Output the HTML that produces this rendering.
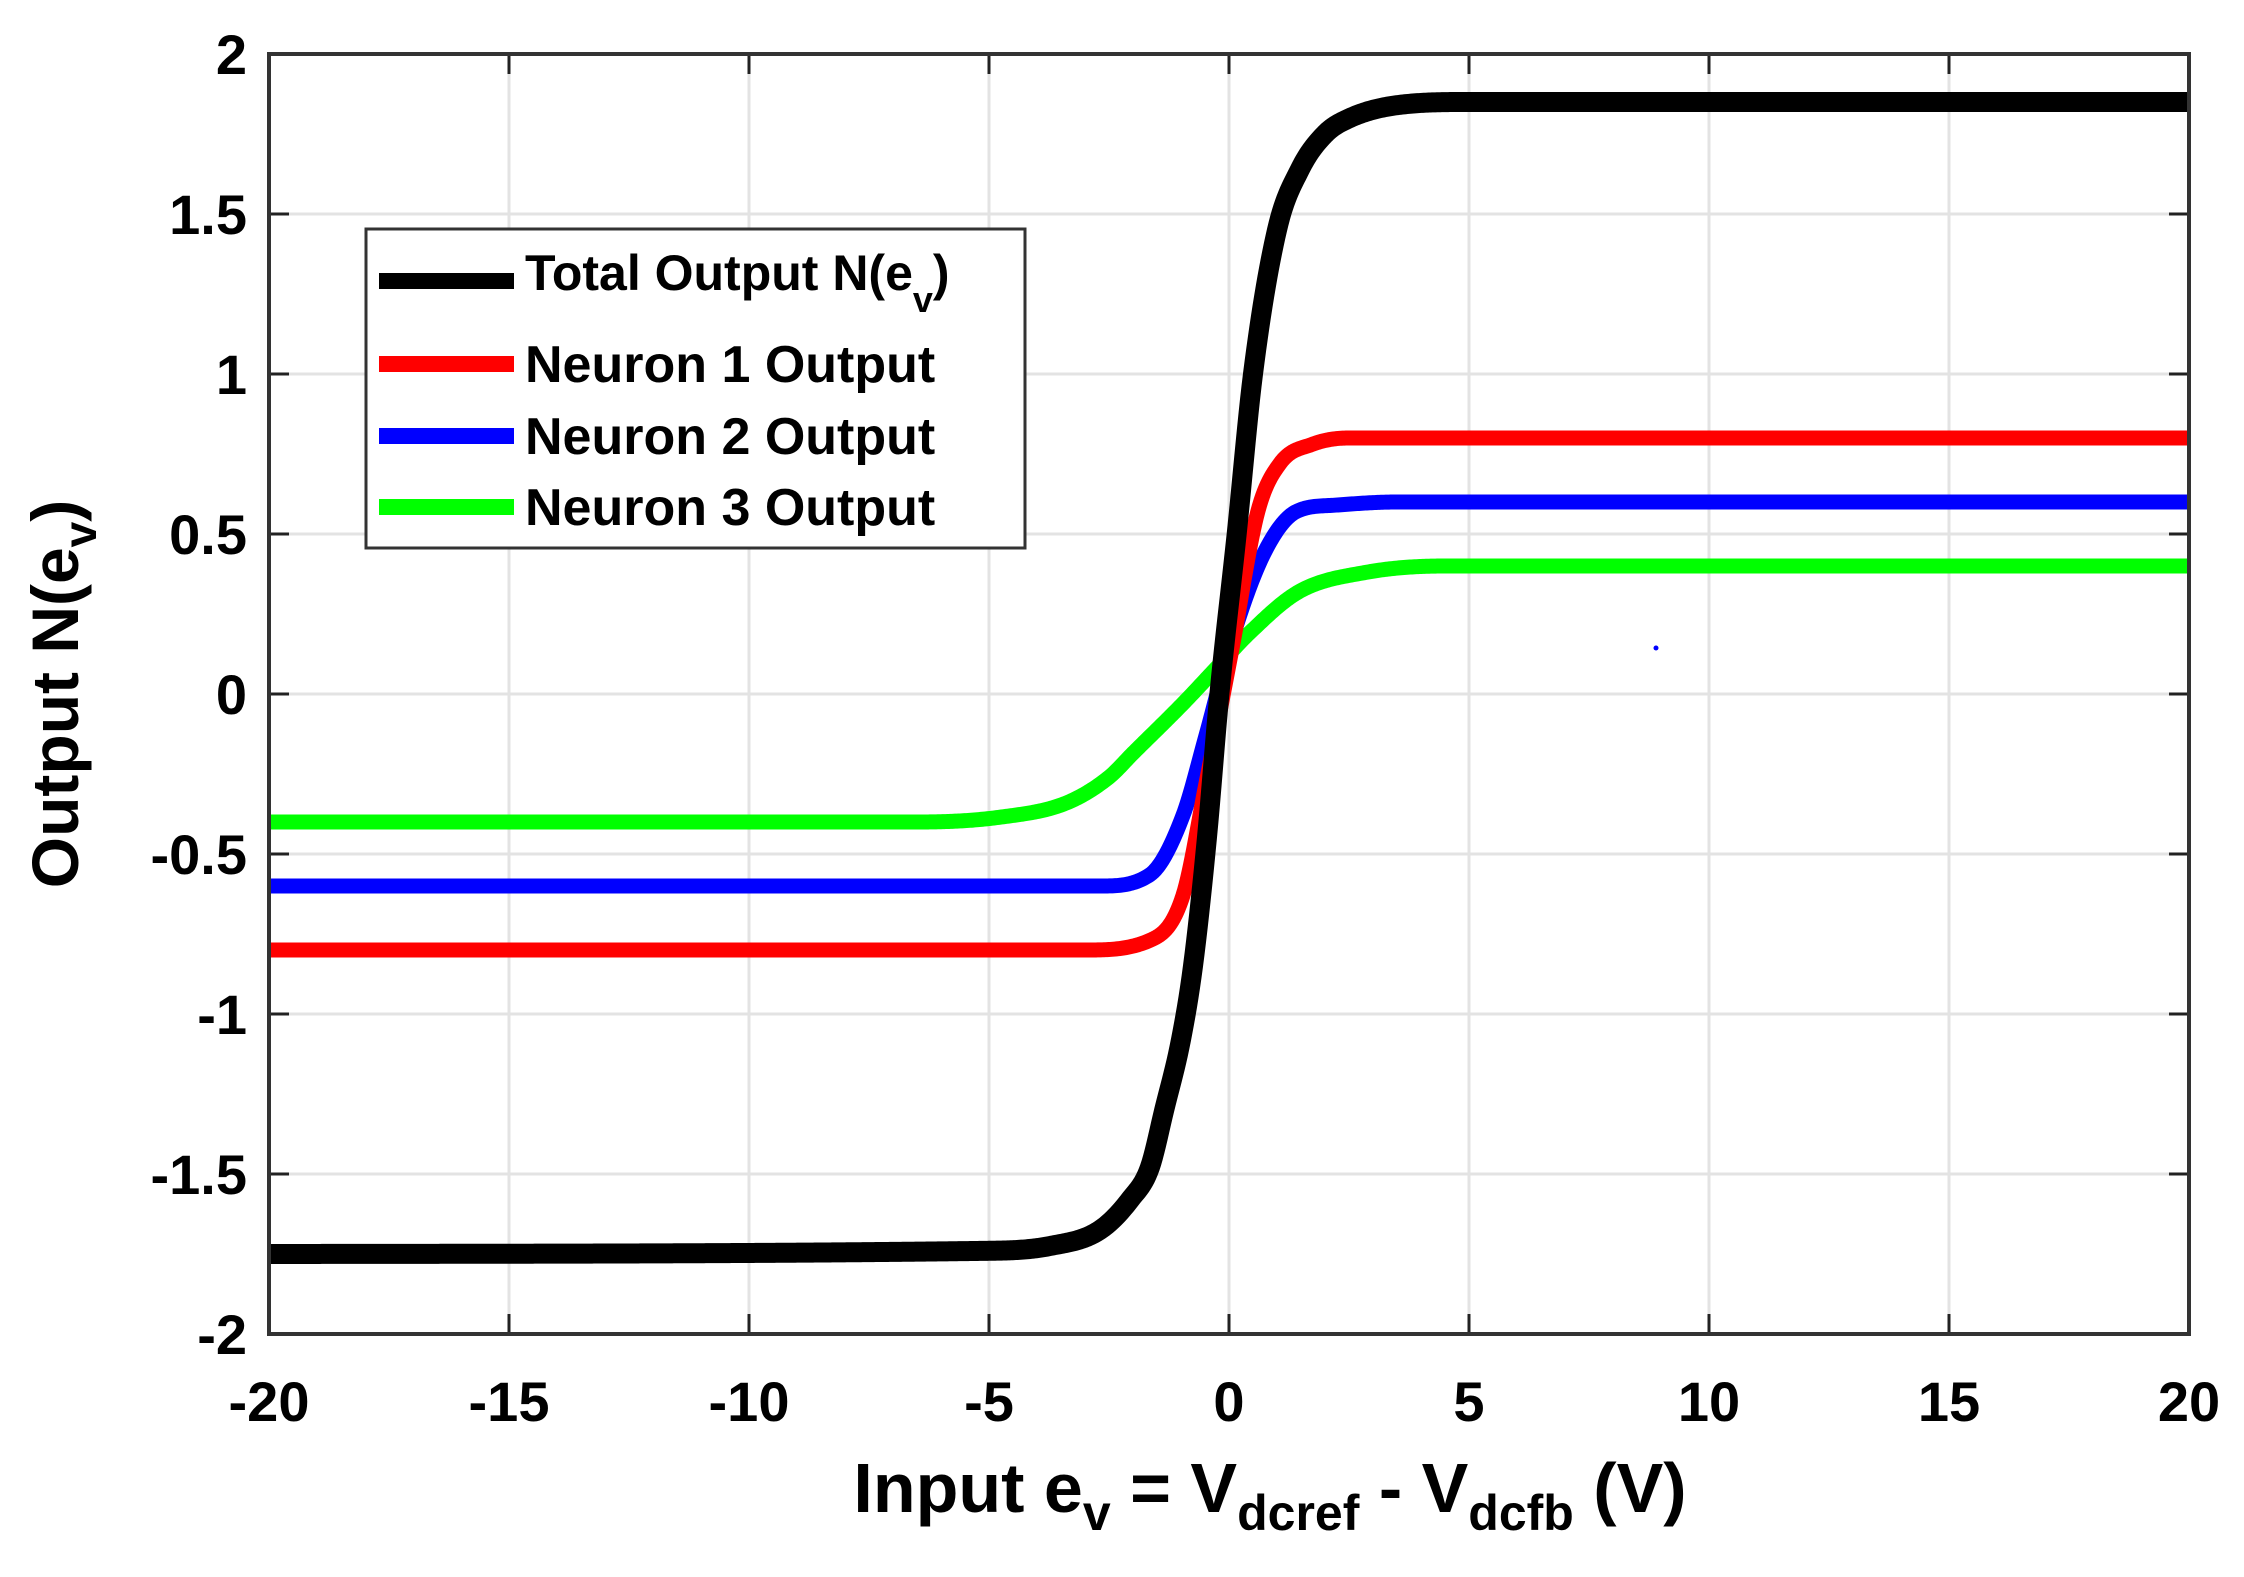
<!DOCTYPE html>
<html><head><meta charset="utf-8"><style>
html,body{margin:0;padding:0;background:#fff;}
svg{display:block;font-family:"Liberation Sans",sans-serif;font-weight:bold;}
</style></head><body>
<svg id="chart" width="2244" height="1577" viewBox="0 0 2244 1577" xmlns="http://www.w3.org/2000/svg">
<rect x="0" y="0" width="2244" height="1577" fill="#fff"/>
<g id="grid"></g>
<g id="series"></g>
<g id="axes"></g>
<g id="legend">
  <rect x="366" y="229" width="659" height="319" fill="#fff" stroke="#333" stroke-width="3"/>
  <line x1="379" y1="281" x2="514" y2="281" stroke="#000" stroke-width="16"/>
  <text x="525" y="290" font-size="50">Total Output N(e<tspan font-size="36" dy="22">v</tspan><tspan dy="-22">)</tspan></text>
  <line x1="379" y1="364" x2="514" y2="364" stroke="#ff0000" stroke-width="16"/>
  <text x="525" y="382" font-size="52">Neuron 1 Output</text>
  <line x1="379" y1="436" x2="514" y2="436" stroke="#0000ff" stroke-width="16"/>
  <text x="525" y="454" font-size="52">Neuron 2 Output</text>
  <line x1="379" y1="507" x2="514" y2="507" stroke="#00ff00" stroke-width="16"/>
  <text x="525" y="525" font-size="52">Neuron 3 Output</text>
</g>
<circle cx="1656" cy="648" r="2.5" fill="#0000ff"/>
<text x="1270" y="1512" font-size="70" text-anchor="middle">Input e<tspan font-size="50" dy="18">v</tspan><tspan dy="-18"> = V</tspan><tspan font-size="50" dy="18">dcref</tspan><tspan dy="-18"> - V</tspan><tspan font-size="50" dy="18">dcfb</tspan><tspan dy="-18"> (V)</tspan></text>
<text transform="translate(78,694) rotate(-90)" font-size="66" text-anchor="middle">Output N(e<tspan font-size="46" dy="18">v</tspan><tspan dy="-18">)</tspan></text>
</svg>
<script>
const xTicks = [-20,-15,-10,-5,0,5,10,15,20];
const yTicks = [-2,-1.5,-1,-0.5,0,0.5,1,1.5,2];
const yTickLabels = ["-2","-1.5","-1","-0.5","0","0.5","1","1.5","2"];
const seriesNames = ["neuron3","neuron2","neuron1","total"];
const totalX = [-20,-5,-3.73,-2.69,-2.06,-1.65,-1.35,-1.0,-0.75,-0.46,-0.2,0.16,0.5,1.0,1.48,2.0,2.52,3.5,5,20];
const totalY = [-1.75,-1.74,-1.725,-1.675,-1.58,-1.48,-1.3,-1.08,-0.85,-0.45,0,0.5,1.0,1.45,1.64,1.75,1.80,1.84,1.85,1.85];
const neuron1X = [-20,-3,-1.65,-0.96,-0.48,0.06,0.6,1.06,1.73,2.5,20];
const neuron1Y = [-0.8,-0.8,-0.77,-0.63,-0.28,0.14,0.57,0.72,0.78,0.8,0.8];
const neuron2X = [-20,-4,-2.69,-1.65,-0.96,-0.48,0.06,0.73,1.4,2.2,3.5,20];
const neuron2Y = [-0.6,-0.6,-0.6,-0.565,-0.38,-0.13,0.17,0.44,0.57,0.59,0.6,0.6];
const neuron3X = [-20,-6.5,-4.77,-3.38,-2.5,-2.0,-0.96,-0.27,0.42,1.46,2.85,4.5,20];
const neuron3Y = [-0.4,-0.4,-0.385,-0.34,-0.26,-0.185,-0.03,0.08,0.19,0.32,0.38,0.4,0.4];

const L=269,R=2189,T=54,B=1334;
const xs = v => L + (v+20)/40*(R-L);
const ys = v => B - (v+2)/4*(B-T);
const NS="http://www.w3.org/2000/svg";
function mk(tag, attrs){const e=document.createElementNS(NS,tag);for(const k in attrs)e.setAttribute(k,attrs[k]);return e;}
const grid=document.getElementById('grid'), axes=document.getElementById('axes'), ser=document.getElementById('series');
xTicks.forEach((t,i)=>{
  const X=xs(t);
  if(i>0&&i<xTicks.length-1){const g=mk('line',{x1:X,y1:T,x2:X,y2:B,stroke:'#e3e3e3','stroke-width':3});
  
  
  grid.appendChild(g);}
  const a=mk('line',{x1:X,y1:B,x2:X,y2:B-20,stroke:'#222','stroke-width':3});
  
  
  axes.appendChild(a);
  const b=mk('line',{x1:X,y1:T,x2:X,y2:T+20,stroke:'#222','stroke-width':3});
  
  
  axes.appendChild(b);
  const tx=mk('text',{x:X,y:1421,'font-size':56,'text-anchor':'middle'});
  tx.textContent=String(t);
  
  
  axes.appendChild(tx);
});
yTicks.forEach((t,i)=>{
  const Y=ys(t);
  if(i>0&&i<yTicks.length-1){const g=mk('line',{x1:L,y1:Y,x2:R,y2:Y,stroke:'#e3e3e3','stroke-width':3});
  
  
  grid.appendChild(g);}
  const a=mk('line',{x1:L,y1:Y,x2:L+20,y2:Y,stroke:'#222','stroke-width':3});
  
  
  axes.appendChild(a);
  const b=mk('line',{x1:R,y1:Y,x2:R-20,y2:Y,stroke:'#222','stroke-width':3});
  
  
  axes.appendChild(b);
  const tx=mk('text',{x:247,y:Y+20,'font-size':56,'text-anchor':'end'});
  tx.textContent=yTickLabels[i];
  
  
  axes.appendChild(tx);
});
const frame=mk('rect',{x:L,y:T,width:R-L,height:B-T,fill:'none',stroke:'#333','stroke-width':4});


axes.appendChild(frame);
// monotone cubic (Fritsch-Carlson) in data space, sampled densely
function pathFrom(X,Y){
  const n=X.length, d=[], m=new Array(n);
  for(let i=0;i<n-1;i++) d.push((Y[i+1]-Y[i])/(X[i+1]-X[i]));
  m[0]=d[0]; m[n-1]=d[n-2];
  for(let i=1;i<n-1;i++){ m[i]=(d[i-1]*d[i]<=0)?0:(d[i-1]+d[i])/2; }
  for(let i=0;i<n-1;i++){
    if(d[i]===0){m[i]=0;m[i+1]=0;continue;}
    const a=m[i]/d[i], b=m[i+1]/d[i], s=a*a+b*b;
    if(s>9){const t=3/Math.sqrt(s);m[i]=t*a*d[i];m[i+1]=t*b*d[i];}
  }
  let p='M'+xs(X[0])+','+ys(Y[0]);
  for(let i=0;i<n-1;i++){
    const h=X[i+1]-X[i], steps=Math.max(4,Math.ceil(h*30));
    for(let k=1;k<=steps;k++){
      const t=k/steps, t2=t*t, t3=t2*t;
      const y=(2*t3-3*t2+1)*Y[i]+(t3-2*t2+t)*h*m[i]+(-2*t3+3*t2)*Y[i+1]+(t3-t2)*h*m[i+1];
      p+=' L'+xs(X[i]+t*h).toFixed(2)+','+ys(y).toFixed(2);
    }
  }
  return p;
}
const defs=[[neuron3X,neuron3Y,'#00ff00',15],[neuron2X,neuron2Y,'#0000ff',15],[neuron1X,neuron1Y,'#ff0000',15],[totalX,totalY,'#000',20]];
defs.forEach((s,i)=>{
  const p=mk('path',{d:pathFrom(s[0],s[1]),fill:'none',stroke:s[2],'stroke-width':s[3],'stroke-linejoin':'round'});
  
  
  ser.appendChild(p);
});
</script>
</body></html>
